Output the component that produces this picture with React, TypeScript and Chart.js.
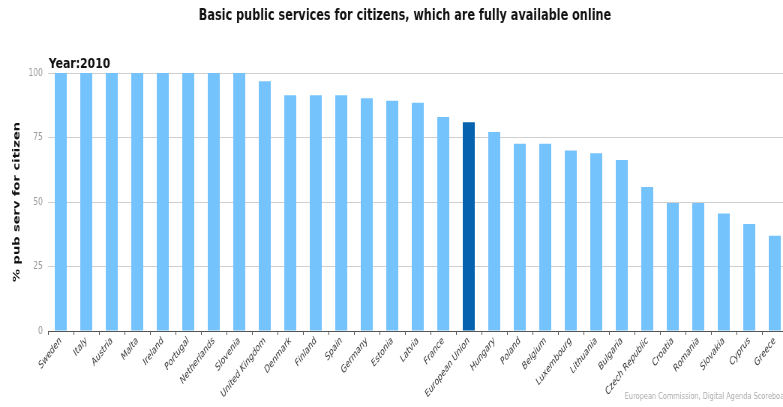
import React, { useEffect, useRef } from "react";
import { Chart, registerables } from "chart.js";

Chart.register(...registerables);

const countries = [
  "Sweden", "Italy", "Austria", "Malta", "Ireland", "Portugal", "Netherlands", "Slovenia",
  "United Kingdom", "Denmark", "Finland", "Spain", "Germany", "Estonia", "Latvia", "France",
  "European Union", "Hungary", "Poland", "Belgium", "Luxembourg", "Lithuania", "Bulgaria",
  "Czech Republic", "Croatia", "Romania", "Slovakia", "Cyprus", "Greece",
];
const values = [
  100, 100, 100, 100, 100, 100, 100, 100,
  96.8, 91.4, 91.4, 91.4, 90.2, 89.2, 88.5, 82.9,
  80.9, 77.1, 72.6, 72.6, 70.0, 68.9, 66.3,
  55.8, 49.6, 49.6, 45.5, 41.5, 36.9,
];
const yTicks = [0, 25, 50, 75, 100];
const highlight = "European Union";

const titleText = "Basic public services for citizens, which are fully available online";
const yearText = "Year:2010";
const yAxisTitle = "% pub serv for citizen";
const footerText = "European Commission, Digital Agenda Scoreboard";

const SQUEEZE = 0.75;
const W = 1070;
const H = 407;

export default function App() {
  const ref = useRef<HTMLCanvasElement | null>(null);

  useEffect(() => {
    if (!ref.current) return;
    const textPlugin = {
      id: "texts",
      afterDraw(chart: any) {
        const ctx = chart.ctx;
        ctx.save();
        ctx.fillStyle = "#111";
        ctx.font = "bold 15px 'DejaVu Sans'";
        ctx.textAlign = "center";
        ctx.textBaseline = "alphabetic";
        ctx.fillText(titleText, 540, 20);
        ctx.textAlign = "left";
        ctx.font = "bold 14.5px 'DejaVu Sans'";
        ctx.fillText(yearText, 65, 68);
        ctx.fillStyle = "#aaa";
        ctx.font = "8.8px 'DejaVu Sans'";
        ctx.fillText(footerText, 833, 399);
        ctx.restore();
      },
    };
    const chart = new Chart(ref.current, {
      type: "bar",
      data: {
        labels: countries,
        datasets: [
          {
            data: values,
            backgroundColor: countries.map((c) => (c === highlight ? "#0562AE" : "#75C3FC")),
            borderWidth: 0,
            categoryPercentage: 1,
            barPercentage: 0.47,
          },
        ],
      },
      options: {
        animation: false,
        responsive: false,
        maintainAspectRatio: false,
        layout: { padding: { left: 0, right: W - 1050, top: 73, bottom: 0 } },
        plugins: { legend: { display: false }, tooltip: { enabled: false } },
        scales: {
          x: {
            afterFit: (s: any) => { s.height = H - 331; },
            grid: { drawOnChartArea: false, drawTicks: true, tickLength: 4, offset: true, color: "#555" },
            border: { display: true, color: "#555", width: 1 },
            ticks: {
              maxRotation: 45, minRotation: 45, autoSkip: false, padding: 0,
              color: "#333",
              font: { family: "'DejaVu Sans'", size: 10, style: "italic" },
            },
          },
          y: {
            min: 0, max: 100,
            afterFit: (s: any) => { s.width = 64; },
            afterBuildTicks: (s: any) => { s.ticks = yTicks.map((v) => ({ value: v })); },
            grid: { color: "#cfcfcf", drawTicks: false, lineWidth: 1 },
            border: { display: false },
            ticks: {
              padding: 7, color: "#999",
              font: { family: "'DejaVu Sans'", size: 10 },
            },
            title: {
              display: true, text: yAxisTitle, color: "#111",
              padding: { top: 15, bottom: 0 },
              font: { family: "'DejaVu Sans'", size: 13, weight: "bold" },
            },
          },
        },
      },
      plugins: [textPlugin],
    });
    return () => chart.destroy();
  }, []);

  return (
    <div style={{ position: "absolute", left: 0, top: 0, width: 783, height: H, overflow: "hidden", background: "#fff" }}>
      <div style={{ width: W, height: H, transform: `scaleX(${SQUEEZE})`, transformOrigin: "0 0" }}>
        <canvas ref={ref} width={W} height={H} style={{ display: "block" }} />
      </div>
    </div>
  );
}
